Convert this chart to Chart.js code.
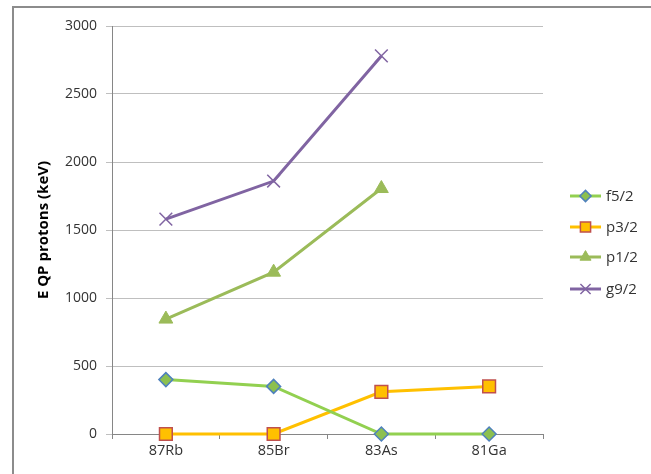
<!DOCTYPE html>
<html>
<head>
<meta charset="utf-8">
<script src="https://cdn.jsdelivr.net/npm/chart.js@4/dist/chart.umd.min.js"></script>
<style>
  html, body { margin: 0; padding: 0; background: #fff; }
  #wrap { position: relative; width: 651px; height: 474px; overflow: hidden; }
  #frame { position: absolute; left: 12px; top: 6px; width: 700px; height: 520px; border: 2px solid #8c8c8c; box-sizing: border-box; }
  canvas { position: absolute; left: 0; top: 0; }
</style>
</head>
<body>
<div id="wrap">
  <div id="frame"></div>
  <canvas id="chart" width="651" height="474"></canvas>
</div>
<script>
const nuclei = ['87Rb', '85Br', '83As', '81Ga'];
const f52 = [400, 350, 0, 0];
const p32 = [0, 0, 310, 350];
const p12 = [845, 1190, 1805, null];
const g92 = [1580, 1860, 2780, null];
const yTicks = [0, 500, 1000, 1500, 2000, 2500, 3000];

const FONT = '"Open Sans", "DejaVu Sans", sans-serif';

// legend drawn as line + marker like the spreadsheet original
const sideLegend = {
  id: 'sideLegend',
  afterDraw(chart) {
    const ctx = chart.ctx;
    const x0 = 570, x1 = 601;
    const ys = [196, 227, 257, 289];
    chart.data.datasets.forEach((ds, i) => {
      const y = ys[i];
      ctx.save();
      ctx.strokeStyle = ds.borderColor;
      ctx.lineWidth = 3;
      ctx.beginPath();
      ctx.moveTo(x0, y);
      ctx.lineTo(x1, y);
      ctx.stroke();
      ctx.fillStyle = ds.pointBackgroundColor;
      ctx.strokeStyle = ds.pointBorderColor;
      ctx.lineWidth = ds.pointBorderWidth;
      Chart.helpers.drawPoint(ctx, {
        pointStyle: ds.pointStyle,
        radius: ds.pointRadius * 0.8,
        borderWidth: ds.pointBorderWidth
      }, (x0 + x1) / 2, y);
      ctx.restore();
      ctx.save();
      ctx.fillStyle = '#333';
      ctx.font = '15px ' + FONT;
      ctx.textBaseline = 'middle';
      ctx.fillText(ds.label, x1 + 5, y + 1);
      ctx.restore();
    });
  }
};

new Chart(document.getElementById('chart').getContext('2d'), {
  type: 'line',
  data: {
    labels: nuclei,
    datasets: [{
      label: 'f5/2',
      data: f52,
      borderColor: '#92D050',
      borderWidth: 3,
      pointStyle: 'rectRot',
      pointRadius: 7,
      pointBackgroundColor: '#8CC04F',
      pointBorderColor: '#4F81BD',
      pointBorderWidth: 1.5,
      clip: false
    }, {
      label: 'p3/2',
      data: p32,
      borderColor: '#FFC000',
      borderWidth: 3,
      pointStyle: 'rect',
      pointRadius: 9,
      pointBackgroundColor: '#FFC000',
      pointBorderColor: '#C0504D',
      pointBorderWidth: 1.5,
      clip: false
    }, {
      label: 'p1/2',
      data: p12,
      borderColor: '#9BBB59',
      borderWidth: 3,
      pointStyle: 'triangle',
      pointRadius: 8,
      pointBackgroundColor: '#9BBB59',
      pointBorderColor: '#9BBB59',
      pointBorderWidth: 1,
      clip: false
    }, {
      label: 'g9/2',
      data: g92,
      borderColor: '#8064A2',
      borderWidth: 3,
      pointStyle: 'crossRot',
      pointRadius: 9,
      pointBackgroundColor: '#8064A2',
      pointBorderColor: '#8064A2',
      pointBorderWidth: 1.5,
      clip: false
    }]
  },
  options: {
    responsive: false,
    animation: false,
    spanGaps: false,
    layout: { padding: { left: 27, right: 108, top: 26, bottom: 0 } },
    plugins: {
      legend: { display: false },
      tooltip: { enabled: false }
    },
    scales: {
      x: {
        offset: true,
        grid: { drawOnChartArea: false, drawTicks: true, tickLength: 5, color: '#868686', offset: true },
        border: { color: '#868686', width: 1 },
        ticks: { color: '#333', font: { family: FONT, size: 14.5 }, padding: 3 },
        afterFit(s) { s.height = 40; }
      },
      y: {
        min: 0,
        max: 3000,
        afterBuildTicks(s) { s.ticks = yTicks.map(v => ({ value: v })); },
        grid: { color: '#bfbfbf', tickLength: 6, lineWidth: 1 },
        border: { color: '#868686', width: 1 },
        ticks: {
          color: '#333',
          font: { family: FONT, size: 14 },
          padding: 9,
          callback: v => String(v)
        },
        title: {
          display: true,
          text: 'E QP protons (keV)',
          color: '#000',
          font: { family: FONT, size: 15, weight: 'bold' },
          padding: { top: 8, bottom: 0 }
        },
        afterFit(s) { s.width = 85; }
      }
    }
  },
  plugins: [sideLegend]
});
</script>
</body>
</html>
